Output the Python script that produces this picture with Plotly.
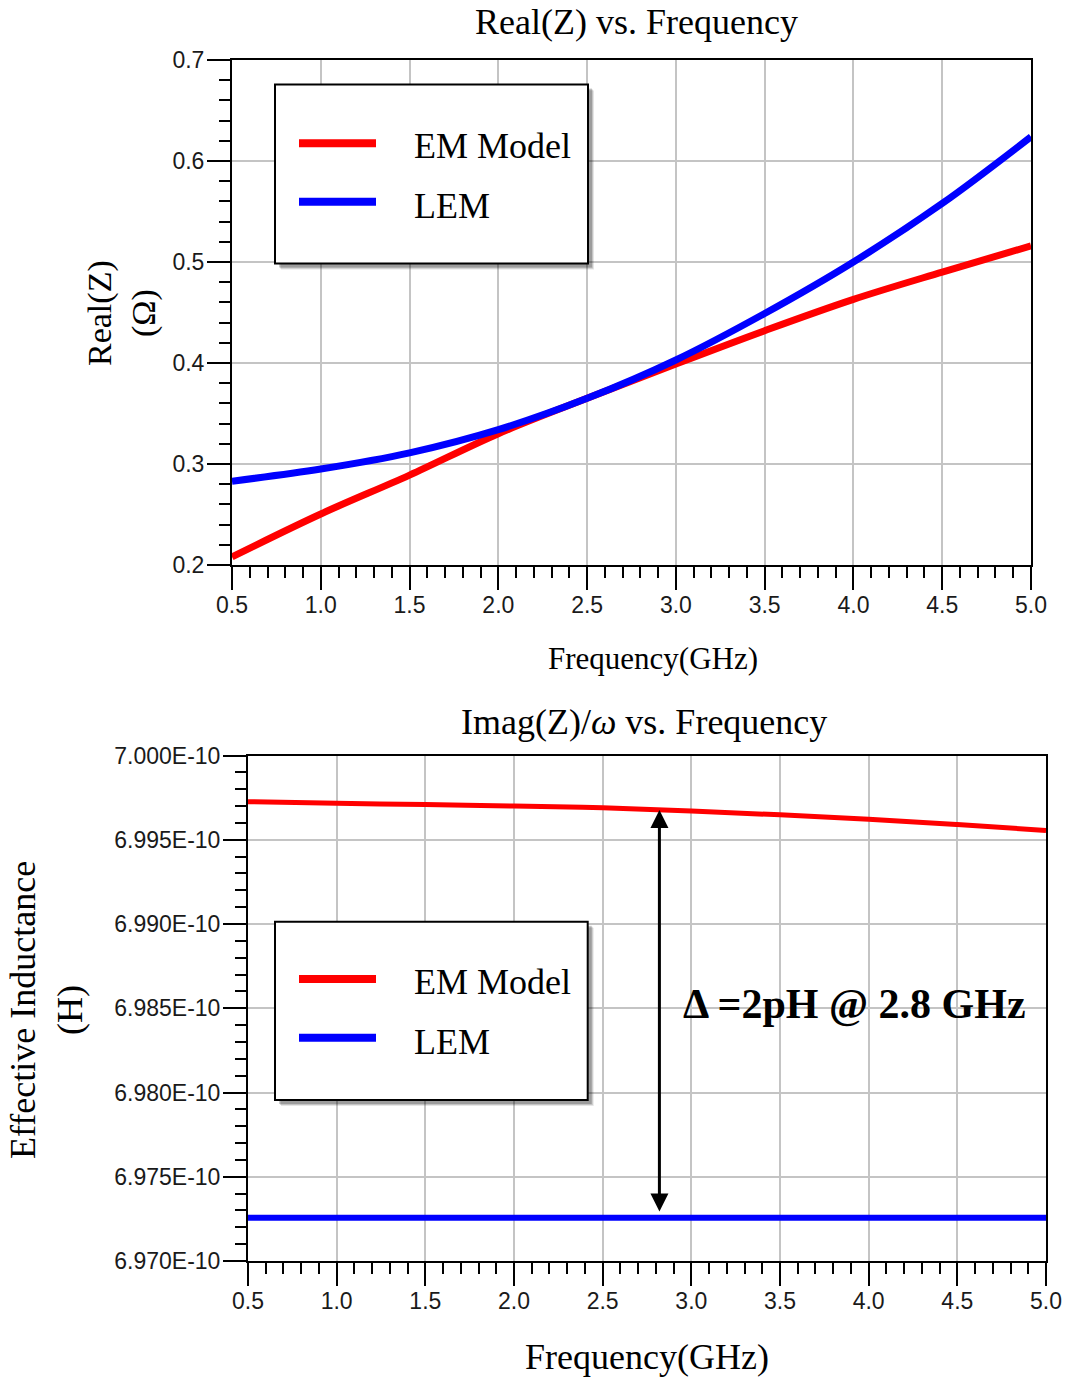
import plotly.graph_objects as go

W, H = 1068, 1381

# ---------------- data ----------------
freq_ghz = [0.5, 1.0, 1.5, 2.0, 2.5, 3.0, 3.5, 4.0, 4.5, 5.0]
realz_em = [0.208, 0.2505, 0.289, 0.330, 0.365, 0.399, 0.432, 0.463, 0.490, 0.516]
realz_lem = [0.283, 0.295, 0.311, 0.334, 0.365, 0.403, 0.449, 0.500, 0.558, 0.624]

leff_em = [6.99726e-10, 6.99716e-10, 6.99709e-10, 6.99700e-10, 6.99690e-10,
           6.99670e-10, 6.99648e-10, 6.99622e-10, 6.99590e-10, 6.99555e-10]
leff_lem = [6.97257e-10] * 10

leff_tickvals = [6.970e-10, 6.975e-10, 6.980e-10, 6.985e-10, 6.990e-10, 6.995e-10, 7.000e-10]
leff_ticktext = ["6.970E-10", "6.975E-10", "6.980E-10", "6.985E-10", "6.990E-10", "6.995E-10", "7.000E-10"]

arrow_freq = 2.82
arrow_top = 6.99676e-10
arrow_bottom = 6.97285e-10

series_names = ["EM Model", "LEM"]
series_colors = ["#ff0000", "#0000ff"]


def px(x):
    return x / W


def py(y):
    return 1 - y / H


SERIF = "Liberation Serif, Times New Roman, serif"
SANS = "Liberation Sans, Arial, sans-serif"

fig = go.Figure()

fig.add_trace(go.Scatter(x=freq_ghz, y=realz_em, mode="lines", name=series_names[0],
                         line=dict(color=series_colors[0], width=7, shape="spline"),
                         xaxis="x", yaxis="y", showlegend=False))
fig.add_trace(go.Scatter(x=freq_ghz, y=realz_lem, mode="lines", name=series_names[1],
                         line=dict(color=series_colors[1], width=7, shape="spline"),
                         xaxis="x", yaxis="y", showlegend=False))
fig.add_trace(go.Scatter(x=freq_ghz, y=leff_em, mode="lines", name=series_names[0],
                         line=dict(color=series_colors[0], width=5, shape="spline"),
                         xaxis="x2", yaxis="y2", showlegend=False))
fig.add_trace(go.Scatter(x=freq_ghz, y=leff_lem, mode="lines", name=series_names[1],
                         line=dict(color=series_colors[1], width=6),
                         xaxis="x2", yaxis="y2", showlegend=False))

axis_common = dict(
    showline=True, linecolor="black", linewidth=2, mirror=True,
    showgrid=True, gridcolor="#c4c4c4", gridwidth=1.5,
    ticks="outside", ticklen=23, tickwidth=2, tickcolor="black",
    tickfont=dict(family=SANS, size=23, color="#1a1a1a"),
    zeroline=False, automargin=False,
)

fig.update_layout(
    template="none",
    width=W, height=H,
    margin=dict(l=0, r=0, t=0, b=0, pad=0, autoexpand=False),
    paper_bgcolor="white", plot_bgcolor="white",
    xaxis=dict(domain=[px(232), px(1031)], anchor="y", range=[0.5, 5.0],
               tick0=0.5, dtick=0.5, tickformat=".1f", ticklabelstandoff=-5,
               minor=dict(dtick=0.1, ticklen=11, tickwidth=1.5, tickcolor="black",
                          ticks="outside", showgrid=False),
               **axis_common),
    yaxis=dict(domain=[py(565), py(60)], anchor="x", range=[0.2, 0.7],
               tick0=0.2, dtick=0.1, tickformat=".1f", ticklabelstandoff=-2,
               minor=dict(dtick=0.02, ticklen=11, tickwidth=1.5, tickcolor="black",
                          ticks="outside", showgrid=False),
               **axis_common),
    xaxis2=dict(domain=[px(248), px(1046)], anchor="y2", range=[0.5, 5.0],
                tick0=0.5, dtick=0.5, tickformat=".1f", ticklabelstandoff=-5,
                minor=dict(dtick=0.1, ticklen=11, tickwidth=1.5, tickcolor="black",
                           ticks="outside", showgrid=False),
                **axis_common),
    yaxis2=dict(domain=[py(1261), py(755.5)], anchor="x2", range=[6.970e-10, 7.000e-10],
                tickvals=leff_tickvals, ticktext=leff_ticktext, ticklabelstandoff=-2,
                minor=dict(dtick=1e-13, tick0=6.970e-10, ticklen=11, tickwidth=1.5,
                           tickcolor="black", ticks="outside", showgrid=False),
                **axis_common),
)

annotations = []
# titles
annotations.append(dict(text="Real(Z) vs. Frequency", x=px(636), y=py(22), xref="paper", yref="paper",
                        showarrow=False, xanchor="center", yanchor="middle",
                        font=dict(family=SERIF, size=36, color="black")))
annotations.append(dict(text="Imag(Z)/<i>ω</i> vs. Frequency", x=px(644), y=py(722), xref="paper", yref="paper",
                        showarrow=False, xanchor="center", yanchor="middle",
                        font=dict(family=SERIF, size=36, color="black")))
# x-axis titles
annotations.append(dict(text="Frequency(GHz)", x=px(653), y=py(658), xref="paper", yref="paper",
                        showarrow=False, xanchor="center", yanchor="middle",
                        font=dict(family=SERIF, size=31, color="black")))
annotations.append(dict(text="Frequency(GHz)", x=px(647), y=py(1357), xref="paper", yref="paper",
                        showarrow=False, xanchor="center", yanchor="middle",
                        font=dict(family=SERIF, size=36, color="black")))
# y-axis titles
annotations.append(dict(text="Real(Z)<br>(Ω)", x=px(122), y=py(313), xref="paper", yref="paper",
                        showarrow=False, xanchor="center", yanchor="middle", textangle=-90,
                        font=dict(family=SERIF, size=34, color="black")))
annotations.append(dict(text="Effective Inductance<br>(H)", x=px(46), y=py(1010), xref="paper", yref="paper",
                        showarrow=False, xanchor="center", yanchor="middle", textangle=-90,
                        font=dict(family=SERIF, size=36, color="black")))
# delta arrow (double headed)
annotations.append(dict(x=arrow_freq, y=arrow_top, ax=arrow_freq, ay=arrow_bottom,
                        xref="x2", yref="y2", axref="x2", ayref="y2", text="",
                        showarrow=True, arrowhead=2, arrowsize=1.2, arrowwidth=3,
                        arrowcolor="black", arrowside="end+start", standoff=0, startstandoff=0))
annotations.append(dict(text="<b>Δ =2pH @ 2.8 GHz</b>", x=px(681), y=py(1004), xref="paper", yref="paper",
                        showarrow=False, xanchor="left", yanchor="middle",
                        font=dict(family=SERIF, size=42, color="black")))

shapes = []


def add_legend(box, line_ys, text_ys):
    x0, y0, x1, y1 = box
    # soft shadow
    for off, alpha in [(6, 0.10), (5, 0.15), (4, 0.2)]:
        shapes.append(dict(type="rect", xref="paper", yref="paper",
                           x0=px(x0 + off), x1=px(x1 + off), y0=py(y1 + off), y1=py(y0 + off),
                           line=dict(width=0), fillcolor=f"rgba(0,0,0,{alpha})", layer="above"))
    shapes.append(dict(type="rect", xref="paper", yref="paper",
                       x0=px(x0), x1=px(x1), y0=py(y1), y1=py(y0),
                       line=dict(color="black", width=2), fillcolor="white", layer="above"))
    for name, color, ly, ty in zip(series_names, series_colors, line_ys, text_ys):
        shapes.append(dict(type="line", xref="paper", yref="paper",
                           x0=px(299), x1=px(376), y0=py(ly), y1=py(ly),
                           line=dict(color=color, width=8), layer="above"))
        annotations.append(dict(text=name, x=px(412), y=py(ty), xref="paper", yref="paper",
                                showarrow=False, xanchor="left", yanchor="middle",
                                font=dict(family=SERIF, size=36, color="black")))


add_legend((275, 84.5, 588, 263.5), [143.3, 201.7], [146, 206])
add_legend((275, 921.7, 587.7, 1100), [979, 1037.7], [982, 1042])

fig.update_layout(annotations=annotations, shapes=shapes)

fig.write_html("out.html")
